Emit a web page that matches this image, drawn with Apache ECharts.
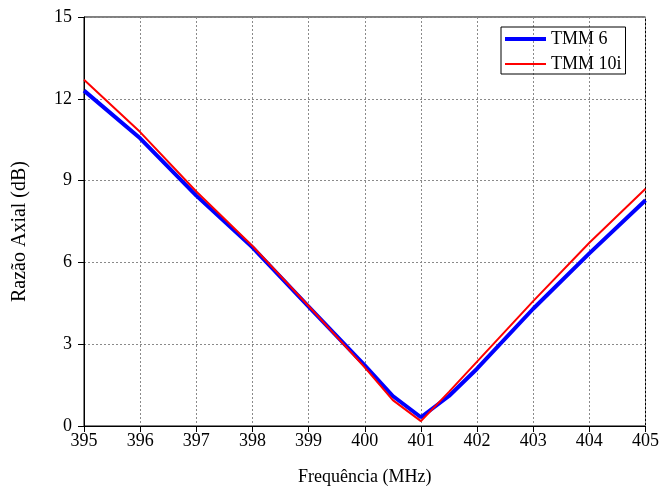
<!DOCTYPE html>
<html>
<head>
<meta charset="utf-8">
<script src="https://cdn.jsdelivr.net/npm/echarts@6/dist/echarts.min.js"></script>
<style>html,body{margin:0;padding:0;background:#fff}#c{width:662px;height:491px}</style>
</head>
<body>
<div id="c"></div>
<script>
const freq = [395, 396, 397, 398, 399, 400, 400.5, 401, 401.5, 402, 403, 404, 405];
const tmm6 = [12.3, 10.55, 8.45, 6.55, 4.38, 2.22, 1.1, 0.32, 1.1, 2.1, 4.3, 6.33, 8.28];
const tmm10i = [12.7, 10.78, 8.6, 6.6, 4.4, 2.15, 0.95, 0.18, 1.25, 2.36, 4.58, 6.72, 8.7];
const seriesNames = ['TMM 6', 'TMM 10i'];

const font = 'Liberation Serif';
const chart = echarts.init(document.getElementById('c'), null, {renderer: 'canvas'});
const gridLine = {show: true, lineStyle: {color: '#8a8a8a', type: [2, 2], width: 1}};
chart.setOption({
  animation: false,
  backgroundColor: '#fff',
  grid: {left: 84, right: 12, top: 17, bottom: 64, show: true, borderColor: '#000', borderWidth: 1, backgroundColor: 'transparent'},
  legend: {
    orient: 'vertical', left: 501, top: 27,
    borderColor: '#000', borderWidth: 1, padding: [3, 4, 1, 2],
    itemWidth: 41, itemHeight: 14, itemGap: 7,
    itemStyle: {opacity: 0},
    textStyle: {fontFamily: font, fontSize: 18, color: '#000'},
    data: [
      {name: seriesNames[0], lineStyle: {width: 4, color: '#0000ff'}},
      {name: seriesNames[1], lineStyle: {width: 2, color: '#ff0000'}}
    ]
  },
  xAxis: {
    type: 'value', min: 395, max: 405, interval: 1,
    name: 'Frequência (MHz)', nameLocation: 'middle', nameGap: 42,
    nameTextStyle: {fontFamily: font, fontSize: 18, color: '#000'},
    axisLine: {show: true, lineStyle: {color: '#000', width: 1}},
    axisTick: {show: true, inside: false, length: 6, lineStyle: {color: '#000'}},
    axisLabel: {fontFamily: font, fontSize: 18, color: '#000', margin: 6},
    splitLine: gridLine
  },
  yAxis: {
    type: 'value', min: 0, max: 15, interval: 3,
    name: 'Razão Axial (dB)', nameLocation: 'middle', nameGap: 54,
    nameTextStyle: {fontFamily: font, fontSize: 20, color: '#000', padding: [0, 20, 0, 0]},
    axisLine: {show: true, lineStyle: {color: '#000', width: 1}},
    axisTick: {show: true, inside: false, length: 6, lineStyle: {color: '#000'}},
    axisLabel: {fontFamily: font, fontSize: 18, color: '#000', margin: 12},
    splitLine: gridLine
  },
  series: [
    {name: seriesNames[0], type: 'line', symbol: 'none', data: freq.map((f, i) => [f, tmm6[i]]),
     lineStyle: {color: '#0000ff', width: 4}, itemStyle: {color: '#0000ff'}, z: 2},
    {name: seriesNames[1], type: 'line', symbol: 'none', data: freq.map((f, i) => [f, tmm10i[i]]),
     lineStyle: {color: '#ff0000', width: 2}, itemStyle: {color: '#ff0000'}, z: 3}
  ]
});
</script>
</body>
</html>
